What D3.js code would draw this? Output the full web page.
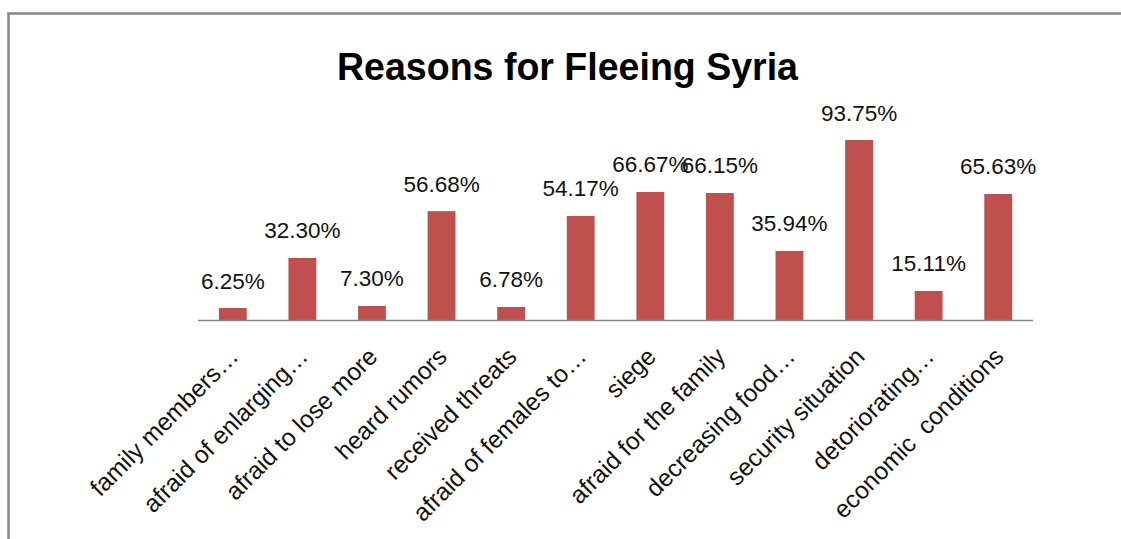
<!DOCTYPE html>
<html>
<head>
<meta charset="utf-8">
<script src="https://cdn.jsdelivr.net/npm/d3@7"></script>
<style>
  html, body { margin: 0; padding: 0; background: #fff; }
  svg { display: block; }
  text { white-space: pre; }
</style>
</head>
<body>
<svg id="chart" width="1121" height="539"></svg>
<script>
const title = "Reasons for Fleeing Syria";
const categories = [
  "family members…",
  "afraid of enlarging…",
  "afraid to lose more",
  "heard rumors",
  "received threats",
  "afraid of females to…",
  "siege",
  "afraid for the family",
  "decreasing food…",
  "security situation",
  "detoriorating…",
  "economic  conditions"
];
const values = [6.25, 32.30, 7.30, 56.68, 6.78, 54.17, 66.67, 66.15, 35.94, 93.75, 15.11, 65.63];
const yDomain = [0, 100];

const W = 1121, H = 539;
const svg = d3.select("#chart");

// outer frame
svg.append("rect")
  .attr("x", 8.5).attr("y", 13.5)
  .attr("width", 1200).attr("height", 600)
  .attr("fill", "none")
  .attr("stroke", "#868686")
  .attr("stroke-width", 2.5);

const plot = { left: 198, right: 1033, top: 128, bottom: 320 };

const x = d3.scaleBand()
  .domain(categories)
  .range([plot.left, plot.right])
  .paddingInner(0.6)
  .paddingOuter(0.3);

const y = d3.scaleLinear().domain(yDomain).range([plot.bottom, plot.top]);

// title
svg.append("text")
  .attr("x", 567.5).attr("y", 80)
  .attr("text-anchor", "middle")
  .attr("font-family", "'Liberation Sans', Arial, sans-serif")
  .attr("font-weight", "bold")
  .attr("font-size", 38)
  .attr("textLength", 461)
  .attr("lengthAdjust", "spacingAndGlyphs")
  .attr("fill", "#000")
  .text(title);

const data = categories.map((c, i) => ({ c, v: values[i] }));

// bars
svg.append("g").selectAll("rect")
  .data(data)
  .join("rect")
  .attr("x", d => x(d.c))
  .attr("y", d => y(d.v))
  .attr("width", x.bandwidth())
  .attr("height", d => y(0) - y(d.v))
  .attr("fill", "#C0504D");

// data labels
svg.append("g").selectAll("text")
  .data(data)
  .join("text")
  .attr("x", d => x(d.c) + x.bandwidth() / 2)
  .attr("y", d => y(d.v) - 19.5)
  .attr("text-anchor", "middle")
  .attr("font-family", "'Liberation Sans', Arial, sans-serif")
  .attr("font-size", 22.5)
  .attr("fill", "#111")
  .text(d => d.v.toFixed(2) + "%");

// x axis
const xAxis = d3.axisBottom(x).tickSize(0).tickPadding(0);
const gx = svg.append("g")
  .attr("transform", `translate(0,${plot.bottom})`)
  .call(xAxis);
gx.select(".domain")
  .attr("d", `M${plot.left},0.5H${plot.right}`)
  .attr("stroke", "#868686")
  .attr("stroke-width", 1.5);
gx.selectAll(".tick text")
  .attr("font-family", "'Liberation Sans', Arial, sans-serif")
  .attr("font-size", 24.5)
  .attr("fill", "#111")
  .attr("text-anchor", "end")
  .attr("dy", 0)
  .attr("y", 0)
  .attr("transform", "translate(7,38) rotate(-45)");
</script>
</body>
</html>
